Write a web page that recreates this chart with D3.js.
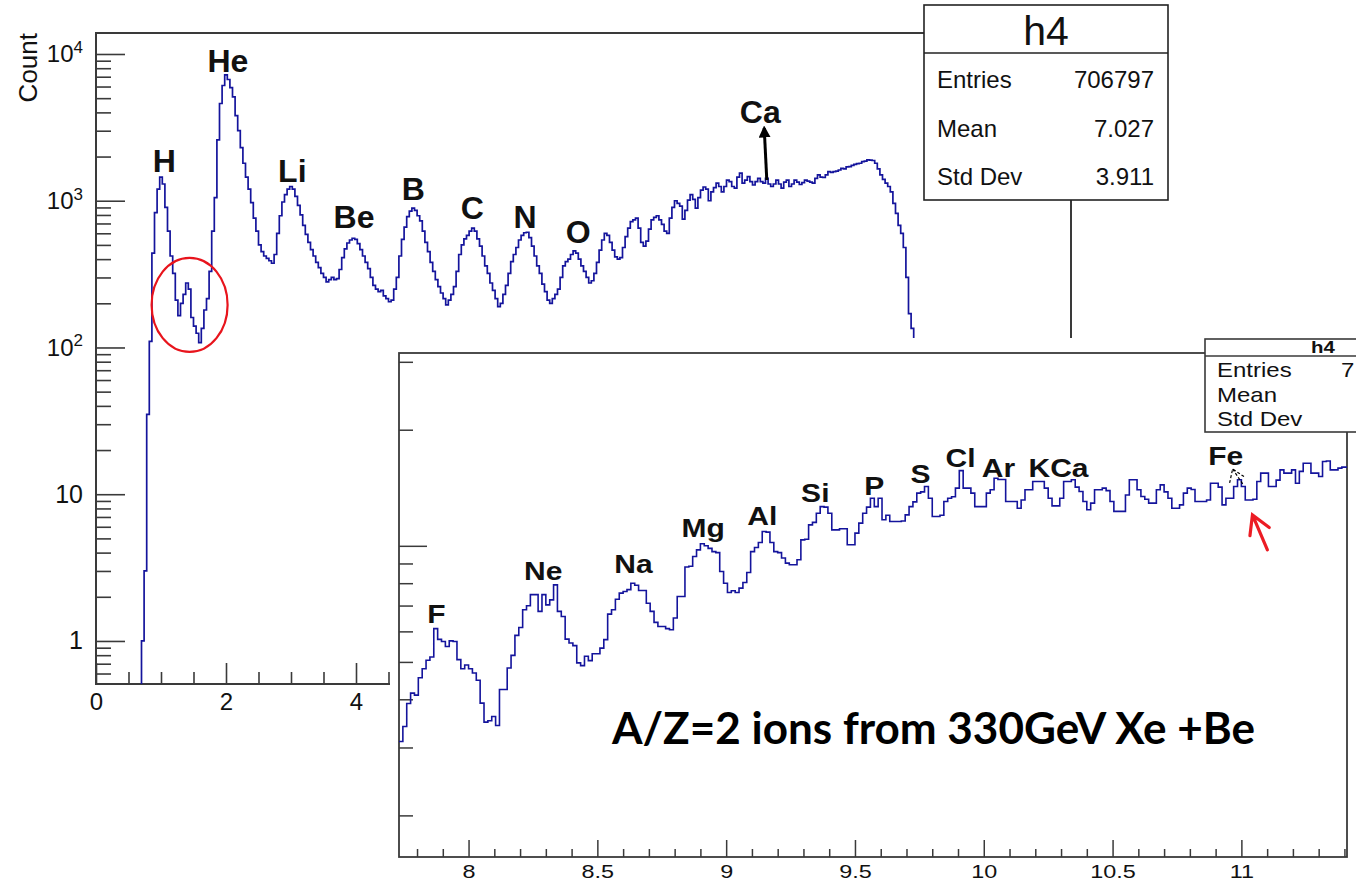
<!DOCTYPE html>
<html>
<head>
<meta charset="utf-8">
<script src="https://cdn.jsdelivr.net/npm/d3@7/dist/d3.min.js"></script>
<style>
  body { margin: 0; background: #fff; }
  svg { display: block; font-family: "Liberation Sans", Arial, sans-serif; }
</style>
</head>
<body>
<script>

// ---- main histogram (full range), bins of 0.04 starting at 0.70
var mainBinStart = 0.70, mainBinWidth = 0.04;
var mainCounts = [
  1, 3, 35, 110, 440, 830, 1200, 1450, 1300, 900,
  620, 420, 320, 210, 165, 200, 230, 275, 250, 160,
  140, 125, 108, 135, 180, 215, 330, 620, 1050, 2600,
  4600, 6100, 7200, 6700, 5900, 5100, 3800, 3000, 2300, 1800,
  1450, 1200, 970, 760, 620, 500, 450, 420, 405, 390,
  375, 430, 600, 790, 980, 1100, 1200, 1250, 1200, 1070,
  930, 800, 680, 590, 520, 465, 420, 380, 350, 320,
  300, 280, 290, 300, 290, 295, 340, 410, 470, 515,
  540, 555, 545, 510, 465, 420, 380, 345, 300, 265,
  250, 240, 245, 225, 215, 205, 210, 250, 300, 420,
  545, 660, 780, 850, 890, 860, 790, 730, 620, 520,
  450, 380, 330, 290, 260, 235, 215, 195, 210, 230,
  260, 330, 430, 500, 550, 580, 620, 650, 620, 550,
  490, 420, 360, 320, 275, 245, 215, 190, 200, 230,
  265, 320, 385, 430, 480, 540, 580, 605, 610, 560,
  490, 420, 360, 320, 270, 240, 210, 200, 215, 230,
  250, 300, 360, 385, 400, 430, 455, 440, 400, 360,
  330, 300, 275, 285, 320, 380, 460, 540, 600, 580,
  520, 460, 415, 400, 410, 480, 570, 650, 720, 740,
  760, 650, 520, 490, 530, 640, 740, 770, 790, 740,
  690, 620, 600, 760, 900, 1000, 960, 920, 750, 860,
  1010, 1100, 1020, 890, 1050, 1180, 1240, 1200, 1000, 1150,
  1230, 1320, 1250, 1150, 1250, 1380, 1350, 1250, 1220, 1450,
  1540, 1320, 1380, 1460, 1350, 1280, 1350, 1420, 1350, 1320,
  1420, 1300, 1250, 1300, 1380, 1300, 1220, 1340, 1380, 1250,
  1300, 1380, 1340, 1290, 1330, 1380, 1360, 1340, 1320, 1420,
  1500, 1450, 1440, 1500, 1580, 1560, 1580, 1590, 1620, 1660,
  1650, 1700, 1710, 1740, 1770, 1790, 1800, 1845, 1860, 1900,
  1890, 1880, 1800, 1650, 1500, 1400, 1320, 1250, 1150, 960,
  820, 680, 600, 480, 300, 170, 135, 80, 40
];

// ---- zoomed histogram (inset), bins of 0.015 starting at 7.73
var insetBinStart = 7.73, insetBinWidth = 0.015;
var insetCounts = [
  311, 340, 390, 415, 410, 455, 480, 505, 515, 610,
  572, 565, 548, 567, 565, 507, 480, 491, 480, 468,
  448, 391, 349, 352, 361, 342, 424, 424, 482, 520,
  586, 614, 683, 699, 747, 747, 676, 747, 703, 724,
  792, 676, 656, 573, 560, 551, 497, 489, 517, 504,
  525, 525, 543, 571, 665, 683, 727, 754, 761, 770,
  800, 790, 766, 766, 710, 676, 633, 618, 618, 610,
  606, 650, 739, 739, 881, 885, 938, 976, 1012, 1000,
  985, 966, 960, 858, 800, 757, 765, 757, 777, 803,
  853, 966, 990, 1020, 1089, 1085, 1020, 966, 960, 930,
  902, 893, 893, 920, 1036, 1040, 1133, 1150, 1215, 1264,
  1260, 1215, 1100, 1100, 1107, 1107, 1006, 1006, 1079, 1145,
  1215, 1260, 1329, 1264, 1329, 1168, 1200, 1156, 1156, 1156,
  1160, 1203, 1264, 1300, 1370, 1380, 1425, 1329, 1191, 1191,
  1200, 1303, 1329, 1340, 1411, 1567, 1411, 1411, 1370, 1264,
  1264, 1264, 1370, 1397, 1497, 1486, 1486, 1303, 1303, 1303,
  1252, 1315, 1397, 1397, 1468, 1468, 1468, 1411, 1329, 1269,
  1269, 1329, 1468, 1468, 1483, 1420, 1383, 1303, 1240, 1290,
  1397, 1397, 1411, 1390, 1303, 1228, 1228, 1228, 1355, 1483,
  1483, 1397, 1342, 1320, 1290, 1290, 1397, 1439, 1380, 1329,
  1252, 1252, 1277, 1370, 1411, 1400, 1303, 1303, 1303, 1315,
  1453, 1453, 1420, 1277, 1329, 1329, 1425, 1483, 1425, 1315,
  1315, 1320, 1468, 1543, 1543, 1425, 1425, 1480, 1574, 1543,
  1543, 1574, 1453, 1560, 1637, 1637, 1543, 1543, 1512, 1654,
  1660, 1574, 1574, 1590, 1600, 1600
];

// axis ranges and tick labels
var mainXRange = [0, 15];
var mainYRange = [0.509, 13900];
var mainXTicks = [0, 2, 4, 6, 8, 10, 12, 14];
var mainXLabelled = [0, 2, 4];          // the others sit under the inset
var mainYTicks = [1, 10, 100, 1000, 10000];
var insetXRange = [7.73, 11.41];
var insetYRange = [156, 3162];
var insetXTicks = [8, 8.5, 9, 9.5, 10, 10.5, 11];

// element labels (x value, count at label baseline)
var mainElements = ["H", "He", "Li", "Be", "B", "C", "N", "O", "Ca"];
var mainElementX = [1.05, 2.03, 3.02, 3.97, 4.88, 5.79, 6.6, 7.42, 10.22];
var mainElementCount = [1570, 7540, 1342, 652, 1012, 745, 652, 515, 3388];

var insetElements = ["F", "Ne", "Na", "Mg", "Al", "Si", "P", "S", "Cl", "Ar", "KCa", "Fe"];
var insetElementX = [7.875, 8.29, 8.64, 8.911, 9.14, 9.346, 9.575, 9.754, 9.91, 10.057, 10.29, 10.939];
var insetElementCount = [632, 816, 851, 1055, 1133, 1300, 1355, 1456, 1602, 1509, 1509, 1620];

var statNames = ["Entries", "Mean", "Std Dev"];
var statValues = ["706797", "7.027", "3.911"];

var histColor = "#14149c";
var frameColor = "#3a3a3a";
var W = 1356, H = 880;

var svg = d3.select("body").append("svg")
  .attr("width", W)
  .attr("height", H);
var defs = svg.append("defs");

// =============== main pad ===============
var xMain = d3.scaleLinear().domain(mainXRange).range([96, 1071]);
var yMain = d3.scaleLog().domain(mainYRange).range([684, 33]);

defs.append("clipPath").attr("id", "clipMain")
  .append("rect")
  .attr("x", 96).attr("y", 33)
  .attr("width", 975).attr("height", 651);

// x axis: majors with labels, minors every 0.5
var gxMain = svg.append("g")
  .attr("transform", "translate(0,684)")
  .call(d3.axisBottom(xMain).tickValues(mainXTicks).tickSize(-21).tickSizeOuter(0).tickPadding(9)
    .tickFormat(function(d) { return mainXLabelled.indexOf(d) >= 0 ? d : ""; }));
var mainXMinor = d3.range(0.5, 15, 0.5).filter(function(v) { return v % 2 !== 0; });
var gxMainMinor = svg.append("g")
  .attr("transform", "translate(0,684)")
  .call(d3.axisBottom(xMain).tickValues(mainXMinor).tickSize(-12).tickSizeOuter(0).tickFormat(""));

// y axis (log)
var gyMain = svg.append("g")
  .attr("transform", "translate(96,0)")
  .call(d3.axisLeft(yMain).tickValues(mainYTicks).tickSize(-29).tickSizeOuter(0).tickPadding(13).tickFormat(""));
var mainYMinor = [];
[0.1, 1, 10, 100, 1000].forEach(function(dec) {
  [2, 3, 4, 5, 6, 7, 8, 9].forEach(function(m) {
    var v = dec * m;
    if (v > mainYRange[0] && v < mainYRange[1]) mainYMinor.push(v);
  });
});
var gyMainMinor = svg.append("g")
  .attr("transform", "translate(96,0)")
  .call(d3.axisLeft(yMain).tickValues(mainYMinor).tickSize(-15).tickSizeOuter(0).tickFormat(""));

[gxMain, gxMainMinor, gyMain, gyMainMinor].forEach(function(g) {
  g.select(".domain").remove();
  g.selectAll("line").attr("stroke", frameColor).attr("stroke-width", 1.6);
});
gxMain.selectAll("text")
  .attr("font-size", 24).attr("font-family", "Liberation Sans, Arial, sans-serif").attr("fill", "#111");
gxMain.selectAll(".tick text").filter(function(d) { return mainXLabelled.indexOf(d) < 0; }).remove();

gyMain.selectAll(".tick text").each(function(d) {
  var t = d3.select(this)
    .attr("font-family", "Liberation Sans, Arial, sans-serif")
    .attr("fill", "#111");
  if (d >= 100) {
    t.attr("font-size", 24);
    t.append("tspan").text("10");
    t.append("tspan").attr("font-size", 17).attr("dy", "-0.55em").text(Math.round(Math.log10(d)));
  } else {
    t.attr("font-size", 25).text(d);
  }
});

// frame
svg.append("rect")
  .attr("x", 96).attr("y", 33)
  .attr("width", 975).attr("height", 651)
  .attr("fill", "none")
  .attr("stroke", frameColor)
  .attr("stroke-width", 2);

// y title
svg.append("text")
  .attr("transform", "translate(37,33) rotate(-90)")
  .attr("text-anchor", "end")
  .attr("font-size", 26)
  .attr("fill", "#111")
  .text("Count");

// histogram as steps
function stepPoints(start, width, counts, xs, ys, fromBottom) {
  var pts = [];
  if (fromBottom) pts.push([xs(start), ys.range()[0]]);
  counts.forEach(function(c, i) {
    var x0 = start + i * width;
    pts.push([xs(x0), ys(c)]);
    pts.push([xs(x0 + width), ys(c)]);
  });
  return pts;
}

var line = d3.line();

svg.append("path")
  .datum(stepPoints(mainBinStart, mainBinWidth, mainCounts, xMain, yMain, true))
  .attr("clip-path", "url(#clipMain)")
  .attr("d", line)
  .attr("fill", "none")
  .attr("stroke", histColor)
  .attr("stroke-width", 1.7)
  .attr("stroke-linejoin", "miter");

// element labels
svg.selectAll("text.mainEl")
  .data(mainElements)
  .enter()
  .append("text")
  .attr("class", "mainEl")
  .attr("x", function(d, i) { return xMain(mainElementX[i]); })
  .attr("y", function(d, i) { return yMain(mainElementCount[i]); })
  .attr("text-anchor", "middle")
  .attr("font-size", 32)
  .attr("font-weight", "bold")
  .attr("fill", "#111")
  .text(function(d) { return d; });

// Ca arrow
defs.append("marker")
  .attr("id", "headBlack")
  .attr("viewBox", "0 0 10 10")
  .attr("refX", 8).attr("refY", 5)
  .attr("markerWidth", 4).attr("markerHeight", 4)
  .attr("orient", "auto")
  .append("path")
  .attr("d", "M0,0 L10,5 L0,10 z")
  .attr("fill", "#000");

svg.append("line")
  .attr("x1", xMain(10.32)).attr("y1", yMain(1384))
  .attr("x2", xMain(10.28)).attr("y2", yMain(3133))
  .attr("stroke", "#000")
  .attr("stroke-width", 3)
  .attr("marker-end", "url(#headBlack)");

// red ellipse around the H / He gap
svg.append("ellipse")
  .attr("cx", xMain(1.44))
  .attr("cy", yMain(195))
  .attr("rx", 38).attr("ry", 47)
  .attr("fill", "none")
  .attr("stroke", "#e8141c")
  .attr("stroke-width", 2.2);

// stats box of the main pad
var stats = svg.append("g");
stats.append("rect")
  .attr("x", 924).attr("y", 5)
  .attr("width", 244).attr("height", 195)
  .attr("fill", "#fff")
  .attr("stroke", "#222")
  .attr("stroke-width", 1.6);
stats.append("line")
  .attr("x1", 924).attr("x2", 1168)
  .attr("y1", 53).attr("y2", 53)
  .attr("stroke", "#222").attr("stroke-width", 1.6);
stats.append("text")
  .attr("x", 1046).attr("y", 45)
  .attr("text-anchor", "middle")
  .attr("font-size", 41)
  .attr("fill", "#111")
  .text("h4");
statNames.forEach(function(n, i) {
  stats.append("text")
    .attr("x", 937).attr("y", 88 + i * 48.5)
    .attr("font-size", 24).attr("fill", "#111")
    .text(n);
  stats.append("text")
    .attr("x", 1154).attr("y", 88 + i * 48.5)
    .attr("text-anchor", "end")
    .attr("font-size", 24).attr("fill", "#111")
    .text(statValues[i]);
});

// =============== inset pad ===============
var xIn = d3.scaleLinear().domain(insetXRange).range([399, 1347]);
var yIn = d3.scaleLog().domain(insetYRange).range([857, 353]);

svg.append("rect")
  .attr("x", 390).attr("y", 338)
  .attr("width", W - 390).attr("height", H - 338)
  .attr("fill", "#fff");

defs.append("clipPath").attr("id", "clipInset")
  .append("rect")
  .attr("x", 399).attr("y", 353)
  .attr("width", 948).attr("height", 504);

var gxIn = svg.append("g")
  .attr("transform", "translate(0,857)")
  .call(d3.axisBottom(xIn).tickValues(insetXTicks).tickSize(-17).tickSizeOuter(0).tickPadding(8)
    .tickFormat(d3.format("~g")));
var insetXMinor = d3.range(7.8, 11.41, 0.1).filter(function(v) {
  return Math.abs(v * 2 - Math.round(v * 2)) > 0.01;
});
var gxInMinor = svg.append("g")
  .attr("transform", "translate(0,857)")
  .call(d3.axisBottom(xIn).tickValues(insetXMinor).tickSize(-8).tickSizeOuter(0).tickFormat(""));

var insetYMinor = [200, 300, 400, 500, 600, 700, 800, 900, 2000, 3000];
var gyIn = svg.append("g")
  .attr("transform", "translate(399,0)")
  .call(d3.axisLeft(yIn).tickValues([1000]).tickSize(-28).tickSizeOuter(0).tickFormat(""));
var gyInMinor = svg.append("g")
  .attr("transform", "translate(399,0)")
  .call(d3.axisLeft(yIn).tickValues(insetYMinor).tickSize(-14).tickSizeOuter(0).tickFormat(""));

[gxIn, gxInMinor, gyIn, gyInMinor].forEach(function(g) {
  g.select(".domain").remove();
  g.selectAll("line").attr("stroke", frameColor).attr("stroke-width", 1.5);
});
gxIn.selectAll("text")
  .attr("font-size", 18)
  .attr("font-family", "Liberation Sans, Arial, sans-serif")
  .attr("fill", "#111")
  .attr("transform", "scale(1.3,1)");

svg.append("rect")
  .attr("x", 399).attr("y", 353)
  .attr("width", 948).attr("height", 504)
  .attr("fill", "none")
  .attr("stroke", frameColor)
  .attr("stroke-width", 1.8);

svg.append("path")
  .datum(stepPoints(insetBinStart, insetBinWidth, insetCounts, xIn, yIn, false))
  .attr("clip-path", "url(#clipInset)")
  .attr("d", line)
  .attr("fill", "none")
  .attr("stroke", histColor)
  .attr("stroke-width", 1.6);

svg.selectAll("g.insetEl")
  .data(insetElements)
  .enter()
  .append("g")
  .attr("class", "insetEl")
  .attr("transform", function(d, i) {
    return "translate(" + xIn(insetElementX[i]) + "," + yIn(insetElementCount[i]) + ") scale(1.2,1)";
  })
  .append("text")
  .attr("text-anchor", "middle")
  .attr("font-size", 25)
  .attr("font-weight", "bold")
  .attr("fill", "#111")
  .text(function(d) { return d; });

// dashed Fe pointer
var feTip = [xIn(10.966), yIn(1582)], feTail = [xIn(11.005), yIn(1447)];
svg.append("path")
  .attr("d", "M" + feTail + "L" + feTip +
             "M" + [feTip[0] - 3, feTip[1] + 14] + "L" + feTip + "L" + [feTip[0] + 12, feTip[1] + 8])
  .attr("fill", "none")
  .attr("stroke", "#000")
  .attr("stroke-width", 1.2)
  .attr("stroke-dasharray", "3,2");

// red arrow near Fe
var rTip = [xIn(11.043), yIn(1203)], rTail = [xIn(11.101), yIn(976)];
var dx = rTail[0] - rTip[0], dy = rTail[1] - rTip[1];
var len = Math.sqrt(dx * dx + dy * dy);
var ux = dx / len, uy = dy / len, wing = 21, c30 = Math.cos(Math.PI / 6), s30 = Math.sin(Math.PI / 6);
var w1 = [rTip[0] + wing * (ux * c30 - uy * s30), rTip[1] + wing * (ux * s30 + uy * c30)];
var w2 = [rTip[0] + wing * (ux * c30 + uy * s30), rTip[1] + wing * (-ux * s30 + uy * c30)];
svg.append("path")
  .attr("d", "M" + rTail + "L" + rTip + "M" + w1 + "L" + rTip + "L" + w2)
  .attr("fill", "none")
  .attr("stroke", "#ec1c24")
  .attr("stroke-width", 3.2)
  .attr("stroke-linecap", "round");

// stats box of the inset (cut by the right edge of the picture)
var stats2 = svg.append("g");
stats2.append("rect")
  .attr("x", 1205).attr("y", 339)
  .attr("width", 240).attr("height", 93)
  .attr("fill", "#fff")
  .attr("stroke", frameColor)
  .attr("stroke-width", 1.6);
stats2.append("line")
  .attr("x1", 1205).attr("x2", W)
  .attr("y1", 356).attr("y2", 356)
  .attr("stroke", frameColor).attr("stroke-width", 1.6);
stats2.append("text")
  .attr("transform", "translate(1323,353) scale(1.2,1)")
  .attr("text-anchor", "middle")
  .attr("font-size", 17)
  .attr("font-weight", "bold")
  .attr("fill", "#111")
  .text("h4");
statNames.forEach(function(n, i) {
  stats2.append("text")
    .attr("transform", "translate(1217," + (377 + i * 24.5) + ") scale(1.2,1)")
    .attr("font-size", 20).attr("fill", "#111")
    .text(n);
});
// only the first digit of the entries value is inside the picture
stats2.append("text")
  .attr("transform", "translate(1341,377) scale(1.2,1)")
  .attr("font-size", 20).attr("fill", "#111")
  .text(statValues[0].charAt(0));

// caption
svg.append("text")
  .attr("x", 612).attr("y", 744)
  .attr("font-family", "Lato, 'Open Sans', sans-serif")
  .attr("font-weight", "bold")
  .attr("font-size", 44)
  .attr("textLength", 643)
  .attr("lengthAdjust", "spacingAndGlyphs")
  .attr("fill", "#000")
  .text("A/Z=2 ions from 330GeV Xe +Be");

</script>
</body>
</html>
